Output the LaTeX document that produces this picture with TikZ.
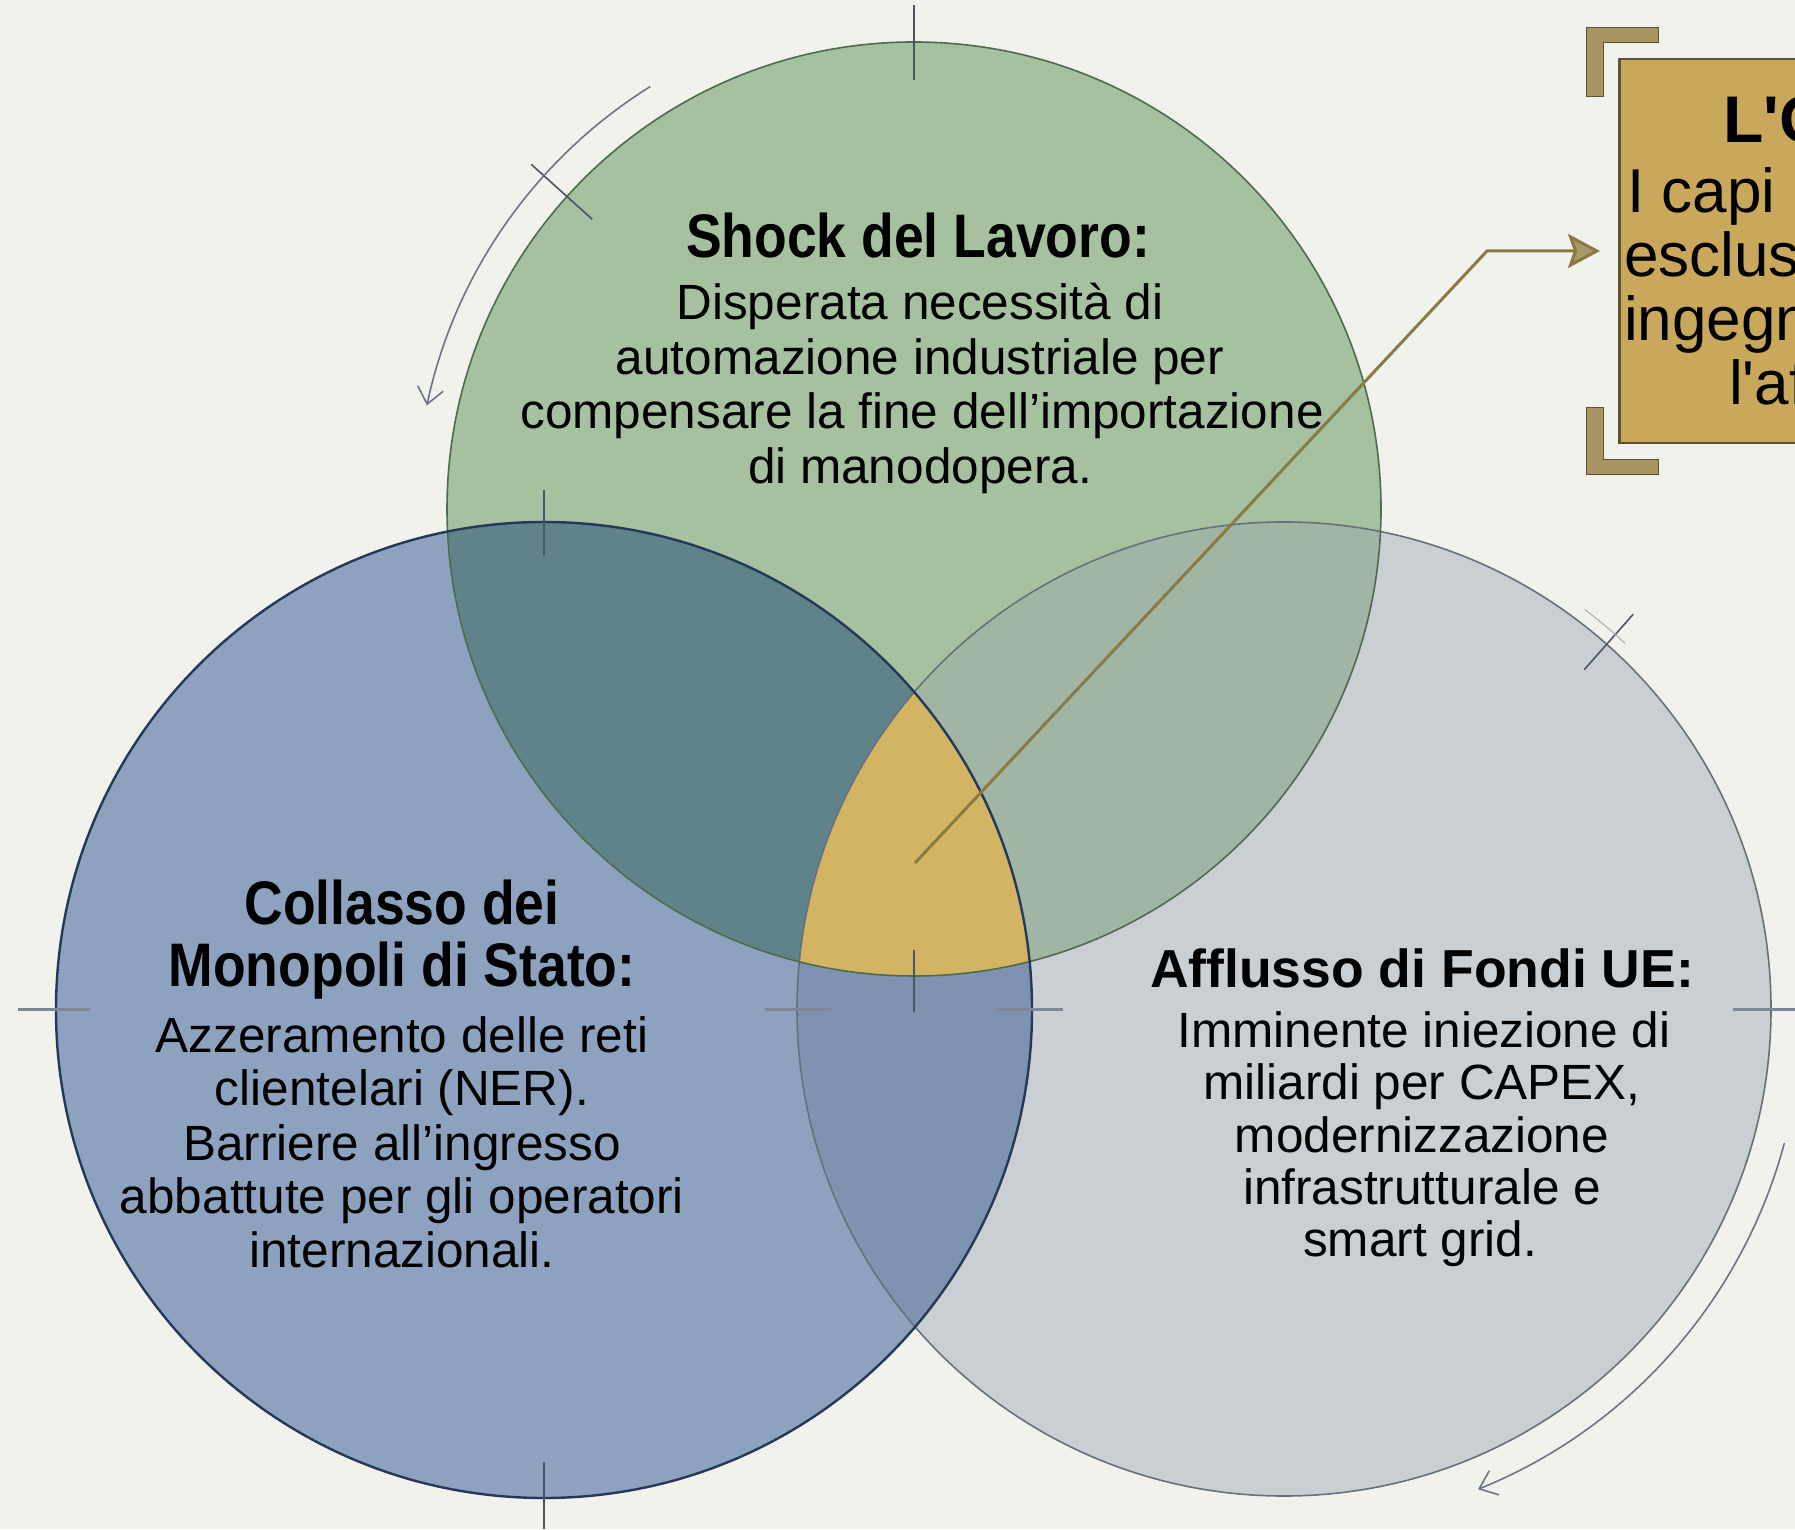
\documentclass[tikz,border=0pt]{standalone}
\usepackage{fontspec}
\setmainfont{Liberation Sans}
\newfontfamily\condfont[FakeStretch=0.87]{Liberation Sans}
\usetikzlibrary{arrows.meta,calc}
\definecolor{bg}{HTML}{F2F2ED}
\definecolor{greenc}{HTML}{A5C19F}
\definecolor{greenb}{HTML}{4D6B4F}
\definecolor{bluec}{HTML}{8DA2BF}
\definecolor{blueb}{HTML}{26385A}
\definecolor{grayc}{HTML}{CACFD4}
\definecolor{grayb}{HTML}{66717C}
\definecolor{tealc}{HTML}{608389}
\definecolor{bluegrayc}{HTML}{7D93B0}
\definecolor{greengrayc}{HTML}{A1B5A5}
\definecolor{goldc}{HTML}{D3B463}
\definecolor{boxfill}{HTML}{C9A85C}
\definecolor{boxline}{HTML}{5D5130}
\definecolor{bracketc}{HTML}{A99563}
\definecolor{connc}{HTML}{8A7A44}
\definecolor{conntip}{HTML}{A69A6B}
\definecolor{markc}{HTML}{4A5566}
\definecolor{hmarkc}{HTML}{7D8796}
\definecolor{arcc}{HTML}{6B7585}
\begin{document}
\begin{tikzpicture}[x=1pt,y=1pt,
  txt/.style={anchor=base,inner sep=0pt,text=black,font=\fontsize{49.5}{54}\selectfont},
  ttl/.style={anchor=base,inner sep=0pt,text=black,font=\bfseries\fontsize{53.5}{60}\selectfont},
  cttl/.style={anchor=base,inner sep=0pt,text=black,font=\condfont\bfseries\fontsize{61.5}{66}\selectfont},
  boxtxt/.style={anchor=base west,inner sep=0pt,text=black,font=\fontsize{62}{66}\selectfont},
  boxttl/.style={anchor=base west,inner sep=0pt,text=black,font=\bfseries\fontsize{66}{70}\selectfont},
  crossmark/.style={draw=markc,line width=1.6pt},
  hmark/.style={draw=hmarkc,line width=3pt},
  arcline/.style={draw=arcc,line width=1.6pt},
  conn/.style={draw=connc,line width=3pt,-{Stealth[length=32pt,width=34pt,inset=6pt,fill=conntip]}},
  bracket/.style={fill=bracketc,draw=boxline,line width=1pt},
  infobox/.style={fill=boxfill,draw=boxline,line width=2.5pt,minimum width=420pt,minimum height=384pt,inner sep=0pt,anchor=west}
]
\path[use as bounding box] (0,0) rectangle (1795,1529);
\clip (0,0) rectangle (1795,1529);
\fill[bg] (0,0) rectangle (1795,1529);

% centres
\coordinate (G) at (914,1020);
\coordinate (B) at (544,519);
\coordinate (R) at (1284,520);

% fills
\fill[grayc] (R) circle[radius=487];
\fill[bluec] (B) circle[radius=488];
\begin{scope}
  \clip (B) circle[radius=488];
  \fill[bluegrayc] (R) circle[radius=487];
\end{scope}
\fill[greenc] (G) circle[radius=467];
\begin{scope}
  \clip (G) circle[radius=467];
  \fill[tealc] (B) circle[radius=488];
  \fill[greengrayc] (R) circle[radius=487];
  \clip (B) circle[radius=488];
  \fill[goldc] (R) circle[radius=487];
\end{scope}

% borders
\draw[grayb,line width=1.6pt] (R) circle[radius=487];
\draw[greenb,line width=1.6pt] (G) circle[radius=467];
\draw[blueb,line width=2.4pt] (B) circle[radius=488];

% registration marks
\draw[hmark] (18,519) -- (90,519);
\draw[hmark] (765,519) -- (831,519);
\draw[hmark] (996,519) -- (1063,519);
\draw[hmark] (1733,519) -- (1795,519);
\draw[crossmark] (914,1524) -- (914,1449);
\draw[crossmark] (914,579) -- (914,517);
\draw[crossmark] (544,1039) -- (544,974);
\draw[crossmark] (544,67) -- (544,0);
\draw[crossmark] ($(G)+(138:433)$) -- ($(G)+(138:515)$);
\draw[crossmark] ($(R)+(48.5:453)$) -- ($(R)+(48.5:527)$);
\draw[arcc!60,line width=1pt] ($(R)+(53:500)$) arc[start angle=53,end angle=47,radius=500];

% rotation arcs
\draw[arcline,-{Straight Barb[length=16pt,width=26pt]}] ($(G)+(122:498)$) arc[start angle=122,end angle=168,radius=498];
\draw[arcline,-{Straight Barb[length=16pt,width=26pt]}] ($(R)+(-15:518)$) arc[start angle=-15,end angle=-68,radius=518];

% texts: green
\node[cttl] (gt) at (918,1271) {Shock del Lavoro:};
\node[txt] (g1) at (920,1209) {Disperata necessità di};
\node[txt] (g2) at (920,1154) {automazione industriale per};
\node[txt] (g3) at (922,1100) {compensare la fine dell'importazione};
\node[txt] (g4) at (920,1045) {di manodopera.};

% texts: blue
\node[cttl] (bt1) at (402,604) {Collasso dei};
\node[cttl] (bt2) at (402,542) {Monopoli di Stato:};
\node[txt] (b1) at (402,476) {Azzeramento delle reti};
\node[txt] (b2) at (402,423) {clientelari (NER).};
\node[txt] (b3) at (402,369) {Barriere all'ingresso};
\node[txt] (b4) at (402,316) {abbattute per gli operatori};
\node[txt] (b5) at (402,262) {internazionali.};

% texts: gray
\node[ttl] (rt) at (1422,541) {Afflusso di Fondi UE:};
\node[txt] (r1) at (1424,481) {Imminente iniezione di};
\node[txt] (r2) at (1422,429) {miliardi per CAPEX,};
\node[txt] (r3) at (1422,377) {modernizzazione};
\node[txt] (r4) at (1422,325) {infrastrutturale e};
\node[txt] (r5) at (1420,273) {smart grid.};

% box with brackets
\node[infobox] (box) at (1618,1278) {};
\path[bracket] (1586,1432) -- (1586,1501) -- (1658,1501) -- (1658,1486) -- (1603,1486) -- (1603,1432) -- cycle;
\path[bracket] (1586,1121) -- (1586,1054) -- (1658,1054) -- (1658,1069) -- (1603,1069) -- (1603,1121) -- cycle;
\node[boxttl] (kt) at (1723,1386) {L\textquotesingle O};
\node[boxtxt] (k1) at (1627,1316) {I capi};
\node[boxtxt] (k2) at (1624,1252) {esclus};
\node[boxtxt] (k3) at (1624,1188) {ingegn};
\node[boxtxt] (k4) at (1729,1124) {l\textquotesingle af};

% connector
\coordinate (core) at (915,666);
\coordinate (bend) at (1487,1278);
\draw[conn] (core) -- (bend) -- ([xshift=-18pt]box.west);
\end{tikzpicture}
\end{document}
